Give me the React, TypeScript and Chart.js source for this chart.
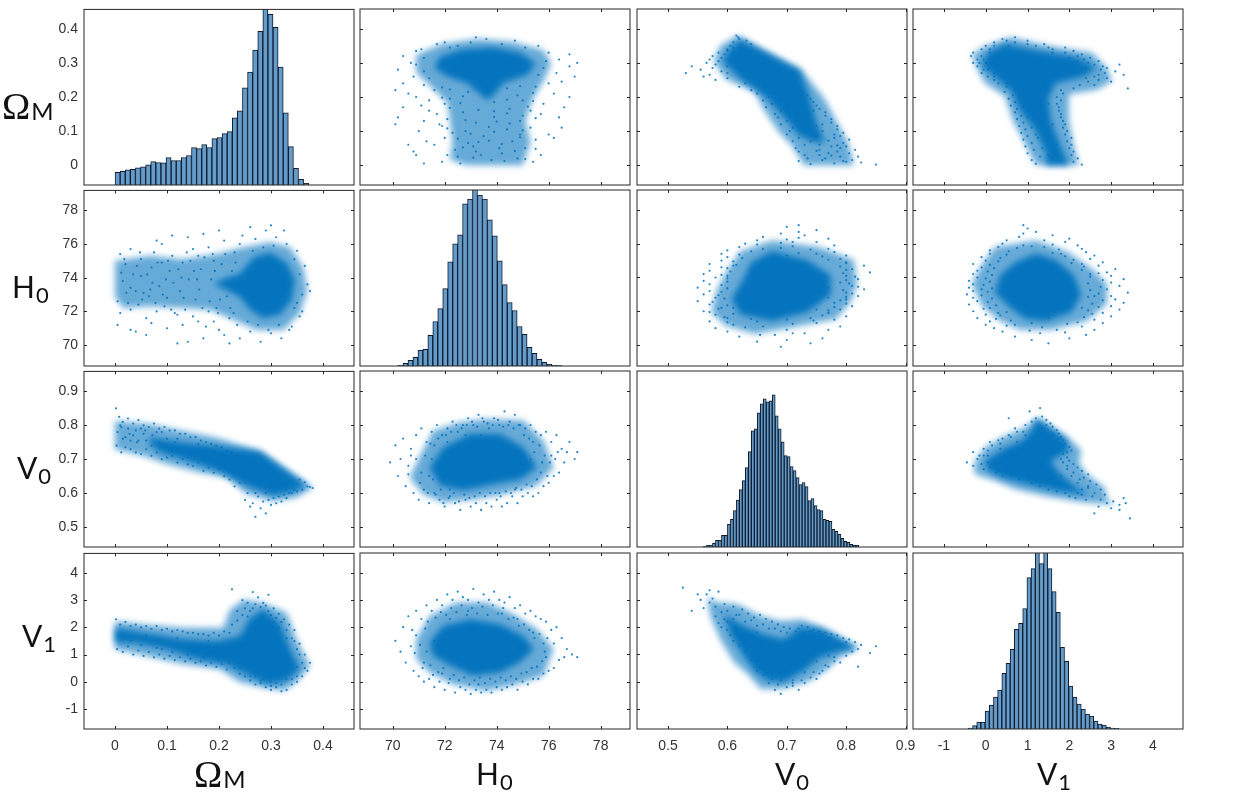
import { useEffect, useRef } from "react"
import { Chart, registerables } from "chart.js"

Chart.register(...registerables)

// Clouds are a thinned hand reading of the picture: "dots" are single points,
// "dense" and "mid" are outlines of the areas too crowded to read point by point.

const omegaBins = [38, 41, 46, 47, 52, 55, 61, 71, 68, 67, 83, 74, 74, 83, 89, 113, 110, 122, 113, 140, 143, 155, 161, 203, 224, 293, 341, 407, 464, 545, 515, 476, 356, 218, 116, 50, 17, 5]
const h0Bins = [2, 8, 17, 26, 47, 50, 92, 134, 173, 233, 314, 368, 395, 488, 503, 535, 515, 503, 440, 392, 317, 245, 191, 167, 119, 95, 56, 38, 20, 11, 5, 2, 1]
const v0Bins = [2, 5, 5, 11, 20, 20, 35, 35, 68, 83, 110, 141, 173, 200, 239, 287, 350, 356, 404, 431, 446, 437, 440, 458, 395, 356, 317, 275, 272, 242, 230, 209, 188, 194, 182, 140, 146, 125, 113, 110, 83, 80, 77, 53, 47, 38, 26, 17, 14, 8, 6, 5]
const v1Bins = [3, 10, 21, 21, 54, 72, 96, 117, 168, 198, 240, 300, 318, 363, 456, 483, 540, 498, 540, 483, 414, 351, 246, 204, 129, 96, 75, 60, 45, 39, 24, 15, 12, 6, 3, 2]
const binStarts = [0.005, 70.3, 0.5623, -0.365]
const binWidths = [0.0098, 0.191, 0.00503, 0.1]

const omegaTicks = [0, 0.1, 0.2, 0.3, 0.4]
const h0Ticks = [70, 72, 74, 76, 78]
const v0Ticks = [0.5, 0.6, 0.7, 0.8, 0.9]
const v1Ticks = [-1, 0, 1, 2, 3, 4]

const xLimits = [[-0.0596, 0.4596], [68.74, 79.13], [0.4478, 0.9024], [-1.74, 4.72]]
const yLimits = [[-0.058, 0.458], [68.76, 79.18], [0.441, 0.959], [-1.735, 4.72]]

const omH0Dense = [[.24,74.24],[.266,75.2],[.298,75.5],[.33,74.9],[.346,73.85],[.34,72.67],[.317,71.8],[.285,71.6],[.26,72.1],[.24,72.86],[.215,73.25],[.19,73.65],[.215,74]]
const omH0Mid = [[0,75],[.067,75.3],[.131,75.1],[.196,75.4],[.247,75.8],[.298,76.1],[.337,75.8],[.362,74.6],[.37,73.25],[.356,71.9],[.324,70.9],[.272,70.9],[.228,71.5],[.183,72.1],[.131,72.2],[.067,72.3],[.016,72.2],[0,72.85]]
const omH0Dots = [[.005,71.2],[.02,74.8],[.03,72.1],[.01,75.4],[.04,70.8],[.05,75.1],[.06,71.6],[.07,74.6],[.08,72],[.03,73.4],[.09,76],[.1,71],[.11,75.3],[.12,71.8],[.13,74.9],[.14,70.2],[.15,75.7],[.16,71.4],[.17,76.6],[.18,72],[.19,75],[.2,70.9],[.21,76.2],[.22,71.6],[.23,75.5],[.24,70.4],[.005,72.6],[.015,73.8],[.035,74.2],[.045,72.4],[.055,73.1],[.065,72.9],[.075,75.5],[.085,73.5],[.095,72.3],[.105,74.4],[.115,71.9],[.125,73.2],[.135,72.1],[.145,75],[.155,72.7],[.165,74.5],[.175,71.1],[.185,73.9],[.195,72.2],[.205,74.8],[.215,72.9],[.225,74.4],[.235,71.2],[.245,76.5],[.01,71.9],[.03,75.7],[.06,70.6],[.09,74.9],[.12,70.1],[.15,71.7],[.18,75.8],[.21,70.6],[.24,76],[.26,70.8],[.27,76.3],[.28,70.2],[.29,76.8],[.3,70.7],[.31,76.4],[.32,70.4],[.33,76],[.34,71.1],[.35,75.6],[.36,72],[.37,73.6],[.365,74.7],[.355,71.7],[.345,75.1],[.335,70.9],[.325,76.8],[.315,71.2],[.305,75.9],[.295,70.9],[.285,75.8],[.275,71.2],[.265,75.6],[.255,71.4],[.345,72.2],[.36,73],[.355,74.2],[.375,73.2],[.35,72.5],[.04,73.2],[.07,71.3],[.1,72.8],[.13,71.2],[.16,75.3],[.19,71.4],[.22,70.1],[.2,76.8],[.14,76.4],[.08,76.2],[.03,70.9],[.05,74.1],[.11,76.5],[.17,70.4],[.26,77],[.3,77.1],[.012,74.3],[.022,73.1],[.042,74.7],[.052,72.7],[.062,74.2],[.072,73.7],[.082,74.9],[.092,73],[.102,75],[.112,73.7],[.122,74.5],[.132,72.8],[.142,73.9],[.152,74.4],[.162,73.3],[.172,75.2],[.182,72.6],[.192,74.4],[.202,72.7],[.212,75.4],[.222,72.2],[.232,74.9],[.025,72.5],[.048,75.5],[.078,72.5],[.108,72.1],[.138,75.5],[.168,72.2],[.198,71.9],[.228,71.9],[.018,75.1],[.068,73.3],[.098,73.9],[.128,74],[.158,73.9],[.188,75.4]]

const omV0Dense = [[.067,.764],[.131,.749],[.196,.739],[.279,.722],[.369,.622],[.337,.602],[.304,.592],[.253,.622],[.196,.666],[.131,.7],[.087,.72],[.067,.745]]
const omV0Mid = [[0,.813],[.067,.803],[.131,.783],[.196,.763],[.279,.725],[.381,.617],[.349,.587],[.304,.577],[.253,.597],[.215,.646],[.163,.661],[.099,.686],[.054,.71],[0,.729]]
const omV0Dots = [[.002,.85],[.003,.74],[.008,.825],[.012,.72],[.015,.81],[.02,.735],[.025,.82],[.03,.73],[.035,.805],[.04,.72],[.045,.815],[.05,.715],[.055,.8],[.06,.73],[.065,.795],[.07,.71],[.075,.805],[.08,.72],[.085,.79],[.09,.7],[.095,.795],[.1,.705],[.105,.785],[.11,.71],[.115,.785],[.12,.69],[.125,.775],[.13,.7],[.135,.775],[.14,.685],[.145,.765],[.15,.68],[.155,.765],[.16,.69],[.165,.755],[.17,.665],[.175,.75],[.18,.675],[.185,.745],[.19,.66],[.195,.74],[.2,.67],[.205,.735],[.21,.65],[.215,.725],[.22,.64],[.225,.72],[.23,.62],[.235,.71],[.24,.63],[.245,.705],[.25,.58],[.255,.6],[.26,.56],[.265,.57],[.27,.53],[.275,.59],[.28,.555],[.285,.575],[.29,.54],[.295,.58],[.3,.565],[.305,.585],[.31,.57],[.315,.59],[.32,.575],[.325,.595],[.33,.585],[.335,.6],[.34,.6],[.345,.61],[.35,.605],[.355,.64],[.36,.61],[.365,.632],[.37,.62],[.375,.618],[.38,.615],[.01,.8],[.03,.755],[.05,.79],[.07,.74],[.09,.78],[.11,.725],[.13,.72],[.15,.715],[.17,.7],[.19,.72],[.21,.68],[.23,.66],[.25,.65],[.27,.6],[.29,.6],[.31,.62],[.33,.61],[.02,.765],[.04,.785],[.06,.755],[.08,.78],[.1,.76],[.12,.76],[.14,.705],[.16,.745],[.005,.78],[.015,.76],[.025,.79],[.035,.77],[.045,.755],[.055,.775],[.012,.795],[.028,.775],[.042,.75],[.058,.785],[.072,.77],[.085,.75],[.1,.74],[.115,.75]]

const omV1Dense = [[0,1.99],[.054,1.8],[.131,1.56],[.196,1.5],[.24,1.68],[.26,2.35],[.285,2.66],[.317,2.17],[.337,1.2],[.356,.46],[.33,.04],[.292,-.1],[.253,.27],[.215,.63],[.163,.8],[.099,1.2],[.035,1.44],[0,1.44]]
const omV1Mid = [[0,2.23],[.054,2.11],[.131,1.99],[.208,1.99],[.221,2.66],[.247,3.02],[.285,2.9],[.33,2.54],[.349,1.56],[.375,.59],[.349,-.02],[.324,-.33],[.285,-.21],[.24,-.02],[.202,.46],[.131,.65],[.061,.95],[0,1.2]]
const omV1Dots = [[.002,2.3],[.004,1.2],[.01,2.1],[.015,1.1],[.02,2.2],[.025,1.3],[.03,2.05],[.035,1],[.04,2.1],[.045,1.15],[.05,2],[.055,.95],[.06,2.05],[.065,1.1],[.07,1.95],[.075,.9],[.08,2.05],[.085,1],[.09,1.9],[.095,.85],[.1,1.95],[.105,.95],[.11,1.85],[.115,.8],[.12,1.9],[.125,.9],[.13,1.85],[.135,.75],[.14,1.8],[.145,.85],[.15,1.8],[.155,.7],[.16,1.75],[.165,.75],[.17,1.75],[.175,.6],[.18,1.7],[.185,.7],[.19,1.8],[.195,.55],[.2,1.7],[.205,.65],[.21,1.85],[.215,.45],[.22,1.8],[.225,3.4],[.23,.5],[.235,2.6],[.24,.3],[.245,3],[.25,.2],[.255,2.9],[.26,.05],[.265,3.3],[.27,-.1],[.275,3.1],[.28,-.05],[.285,2.9],[.29,-.2],[.295,3.2],[.3,-.3],[.305,2.7],[.31,-.2],[.315,2.5],[.32,-.35],[.325,2.3],[.33,-.3],[.335,2.1],[.34,-.1],[.345,1.9],[.35,0],[.355,1.4],[.36,.2],[.365,1],[.37,.4],[.375,.7],[.255,2.4],[.265,2.7],[.285,2.4],[.295,2.6],[.305,2.2],[.315,2],[.33,1.6],[.345,1.5],[.355,1],[.27,.2],[.285,.1],[.3,0],[.31,-.05],[.33,.1],[.35,.2],[.26,.55],[.245,.65],[.03,1.5],[.06,1.7],[.09,1.2],[.12,1.6],[.15,1.1],[.18,1.5],[.21,1.1],[.24,1.4],[.225,2.1],[.235,2.25],[.245,2.45],[.25,2.7],[.26,2.6],[.27,2.85],[.28,2.75],[.29,2.8],[.3,2.45],[.31,2.35],[.32,2.2],[.33,1.9],[.34,1.6],[.35,1.2],[.36,.7],[.365,.5],[.35,.55],[.34,.1],[.32,-.1],[.3,-.15],[.28,.05],[.26,.2],[.24,.5],[.22,.7],[.2,.8],[.17,.9],[.14,1],[.11,1.1],[.08,1.25],[.05,1.35]]

const h0V0Dense = [[71.42,.675],[71.94,.734],[72.97,.774],[74.13,.774],[75.03,.734],[75.55,.675],[74.9,.64],[73.87,.626],[72.71,.607],[71.81,.622]]
const h0V0Mid = [[71.03,.705],[71.55,.783],[72.58,.808],[73.61,.818],[75.03,.813],[75.8,.754],[76.19,.675],[75.55,.622],[74.26,.597],[73.23,.582],[71.94,.573],[71.16,.597],[70.65,.646]]
const h0V0Dots = [[69.9,.69],[70.1,.74],[70.2,.65],[70.3,.7],[70.4,.76],[70.5,.62],[70.6,.68],[70.7,.73],[70.8,.6],[70.9,.77],[71,.58],[71.1,.79],[71.2,.61],[71.3,.75],[71.4,.57],[71.5,.78],[71.6,.6],[71.7,.8],[71.8,.58],[71.9,.77],[72,.56],[72.1,.79],[72.2,.59],[72.3,.81],[72.4,.57],[72.5,.78],[72.6,.55],[72.7,.8],[72.8,.58],[72.9,.82],[73,.56],[73.1,.8],[73.2,.57],[73.3,.83],[73.4,.55],[73.5,.81],[73.6,.57],[73.7,.79],[73.8,.56],[73.9,.82],[74,.58],[74.1,.8],[74.2,.56],[74.3,.84],[74.4,.57],[74.5,.81],[74.6,.59],[74.7,.83],[74.8,.57],[74.9,.8],[75,.59],[75.1,.79],[75.2,.6],[75.3,.8],[75.4,.59],[75.5,.78],[75.6,.6],[75.7,.77],[75.8,.62],[75.9,.78],[76,.63],[76.1,.75],[76.2,.65],[76.3,.77],[76.4,.66],[76.5,.73],[76.6,.69],[76.7,.72],[76.8,.75],[77,.7],[77.1,.72],[70.7,.71],[71.1,.66],[71.5,.7],[71.4,.65],[72.1,.75],[72.8,.77],[73.4,.77],[74.1,.6],[74.7,.61],[75.3,.7],[75.7,.66],[76.1,.71],[75.4,.75],[71.6,.74],[72.2,.61],[70.6,.655],[70.9,.7],[71.05,.63],[71.25,.71],[71.35,.6],[71.45,.745],[71.55,.64],[71.65,.595],[71.75,.76],[71.85,.61],[71.95,.57],[72.05,.77],[72.15,.585],[72.25,.78],[72.35,.6],[72.45,.8],[72.55,.575],[72.65,.79],[72.75,.595],[72.85,.8],[72.95,.585],[73.05,.81],[73.15,.59],[73.25,.795],[73.35,.6],[73.45,.82],[73.55,.59],[73.65,.805],[73.75,.6],[73.85,.8],[73.95,.6],[74.05,.815],[74.15,.59],[74.25,.795],[74.35,.605],[74.45,.8],[74.55,.6],[74.65,.79],[74.75,.615],[74.85,.8],[74.95,.61],[75.05,.77],[75.15,.625],[75.25,.76],[75.35,.62],[75.45,.72],[75.55,.64],[75.65,.74],[75.75,.69],[75.85,.71],[75.95,.65],[76.05,.69],[76.25,.7],[76.35,.72]]

const h0V1Dense = [[71.42,1.44],[71.94,2.05],[72.97,2.29],[74.13,2.11],[75.03,1.68],[75.42,1.2],[74.9,.71],[74.13,.34],[73.1,.22],[72.2,.59],[71.55,.95]]
const h0V1Mid = [[70.9,1.56],[71.42,2.41],[72.45,2.9],[73.61,2.9],[74.52,2.54],[75.55,1.93],[76.19,1.2],[75.8,.22],[74.77,-.09],[73.61,-.33],[72.32,-.09],[71.42,.34],[70.9,.83]]
const h0V1Dots = [[70.1,1.5],[70.3,1.1],[70.4,2],[70.5,.7],[70.6,2.4],[70.7,1.3],[70.8,.4],[70.9,2.6],[71,.2],[71.1,2.3],[71.2,0],[71.3,2.8],[71.4,.1],[71.5,2.6],[71.6,-.2],[71.7,3],[71.8,0],[71.9,2.8],[72,-.3],[72.1,3.2],[72.2,.1],[72.3,3],[72.4,-.4],[72.5,3.3],[72.6,-.2],[72.7,3.1],[72.8,-.3],[72.9,3],[73,-.45],[73.1,3.4],[73.2,-.3],[73.3,2.9],[73.4,-.4],[73.5,3.2],[73.6,-.3],[73.7,3],[73.8,-.4],[73.9,3.3],[74,-.2],[74.1,3],[74.2,-.3],[74.3,2.9],[74.4,-.2],[74.5,3.1],[74.6,-.1],[74.7,2.7],[74.8,-.3],[74.9,2.8],[75,0],[75.1,2.5],[75.2,-.1],[75.3,2.6],[75.4,.1],[75.5,2.4],[75.6,.1],[75.7,2.3],[75.8,.3],[75.9,2.2],[76,.4],[76.1,1.9],[76.2,.5],[76.3,2],[76.4,.8],[76.5,1.6],[76.6,.9],[76.7,1.2],[76.9,1],[77.1,.9],[70.9,1.7],[71.3,1.1],[71.6,1.5],[72.2,2.3],[72.9,2.6],[73.3,-.1],[74.2,2.5],[74.8,2.3],[75.4,1.8],[75.8,1.4],[76.2,1.4],[75.9,.9],[71.2,.7],[71.9,.3],[70.75,1.9],[70.85,1.05],[71.05,1.35],[71.15,.5],[71.25,1.95],[71.35,2.2],[71.45,.6],[71.55,.25],[71.65,2.35],[71.75,.35],[71.85,2.55],[71.95,.5],[72.05,2.45],[72.15,-.05],[72.25,2.7],[72.35,.25],[72.45,2.55],[72.55,.05],[72.65,2.8],[72.75,.15],[72.85,2.45],[72.95,-.1],[73.05,2.7],[73.15,.05],[73.25,2.5],[73.35,.15],[73.45,2.75],[73.55,-.05],[73.65,2.45],[73.75,.1],[73.85,2.8],[73.95,0],[74.05,2.5],[74.15,.15],[74.25,2.7],[74.35,.05],[74.45,2.3],[74.55,.2],[74.65,2.35],[74.75,.1],[74.85,2.05],[74.95,.3],[75.05,2.1],[75.15,.35],[75.25,1.9],[75.35,.5],[75.45,1.6],[75.55,.55],[75.65,1.75],[75.75,.75],[75.85,1.1],[75.95,1.6]]

const v0V1Dense = [[.594,2.48],[.622,2.11],[.661,1.74],[.695,1.56],[.723,1.99],[.756,1.93],[.79,1.56],[.819,1.2],[.79,1.13],[.756,.89],[.729,.4],[.695,-.02],[.667,.04],[.645,.4],[.622,1.13],[.605,1.74]]
const v0V1Mid = [[.566,3.09],[.583,2.9],[.617,2.84],[.656,2.41],[.69,2.23],[.726,2.29],[.768,1.93],[.821,1.26],[.79,.89],[.768,.46],[.734,-.02],[.69,-.27],[.656,-.27],[.634,.28],[.611,.71],[.589,1.5],[.572,2.35]]
const v0V1Dots = [[.525,3.45],[.54,2.6],[.55,3.2],[.555,3],[.56,2.7],[.565,3.2],[.57,3.35],[.57,2.9],[.575,3.05],[.58,2.4],[.58,2.75],[.585,3.3],[.59,2.55],[.59,2],[.595,2.85],[.6,1.9],[.6,2.6],[.605,1.7],[.61,2.75],[.61,1.5],[.615,2.45],[.62,1.3],[.625,2.65],[.63,1.1],[.635,2.5],[.64,.8],[.645,2.35],[.65,.4],[.655,2.45],[.66,.25],[.665,2.3],[.67,-.05],[.675,2.2],[.68,-.3],[.685,2.1],[.69,-.45],[.695,2],[.7,-.2],[.705,1.95],[.71,-.15],[.715,1.85],[.72,-.3],[.725,2.05],[.73,-.05],[.735,2],[.74,.15],[.745,1.9],[.75,.1],[.755,1.85],[.76,.4],[.765,1.8],[.77,.55],[.775,1.75],[.78,.9],[.785,1.7],[.79,.7],[.795,1.6],[.8,.95],[.805,1.55],[.81,1.1],[.815,1.45],[.82,1.2],[.825,1.35],[.84,1.05],[.85,1.3],[.82,.55],[.755,.3],[.71,.05],[.655,.6],[.625,1.65],[.595,2.3],[.61,2.3],[.63,2.2],[.65,2.05],[.67,1.95],[.69,1.85],[.73,1.75],[.77,1.6],[.79,1.35],[.77,.95],[.75,.75],[.73,.35],[.69,.05],[.66,.5],[.635,1.2],[.585,2.15],[.6,2.2],[.615,1.95],[.62,2.45],[.63,1.55],[.64,2.25],[.645,1],[.65,1.8],[.655,.75],[.66,2.1],[.665,.3],[.675,.1],[.68,1.95],[.685,-.1],[.7,1.8],[.71,-.05],[.72,1.95],[.725,.05],[.74,1.85],[.745,.35],[.76,1.75],[.765,.6],[.775,1.6],[.78,.75],[.8,1.45]]

const clouds: Record<string, { dense: number[][]; mid: number[][]; dots: number[][] }> = {
  "0-1": { dense: omH0Dense, mid: omH0Mid, dots: omH0Dots },
  "0-2": { dense: omV0Dense, mid: omV0Mid, dots: omV0Dots },
  "0-3": { dense: omV1Dense, mid: omV1Mid, dots: omV1Dots },
  "1-2": { dense: h0V0Dense, mid: h0V0Mid, dots: h0V0Dots },
  "1-3": { dense: h0V1Dense, mid: h0V1Mid, dots: h0V1Dots },
  "2-3": { dense: v0V1Dense, mid: v0V1Mid, dots: v0V1Dots },
}
const allBins = [omegaBins, h0Bins, v0Bins, v1Bins]
const allTicks = [omegaTicks, h0Ticks, v0Ticks, v1Ticks]

const panelLefts = [83.5, 359.5, 636.5, 912.5]
const panelTops = [8.5, 190, 371, 552.5]
const panelWidth = 270
const panelHeight = 176
const pad = { left: 40, right: 20, top: 14, bottom: 30 }
const ink = "#262626"
const blue = "0, 114, 189"

const areaPlugin = {
  id: "cloudAreas",
  beforeDatasetsDraw(chart: any, _args: any, opts: any) {
    if (!opts.areas) return
    const { ctx, chartArea: a, scales } = chart
    ctx.save()
    ctx.beginPath()
    ctx.rect(a.left, a.top, a.right - a.left, a.bottom - a.top)
    ctx.clip()
    opts.areas.forEach((area: any) => {
      ctx.filter = `blur(${area.blur}px)`
      ctx.fillStyle = area.color
      ctx.beginPath()
      area.points.forEach((p: any, i: number) => {
        const px = scales.x.getPixelForValue(p.x)
        const py = scales.y.getPixelForValue(p.y)
        if (i === 0) ctx.moveTo(px, py)
        else ctx.lineTo(px, py)
      })
      ctx.closePath()
      ctx.fill()
    })
    ctx.restore()
  },
}

const framePlugin = {
  id: "frame",
  afterDraw(chart: any, _args: any, opts: any) {
    const { ctx, chartArea: a, scales } = chart
    ctx.save()
    ctx.strokeStyle = ink
    ctx.lineWidth = 1
    if (opts.inwardTicks) {
      ctx.beginPath()
      scales.x.ticks.forEach((t: any) => {
        const px = Math.round(scales.x.getPixelForValue(t.value)) + 0.5
        ctx.moveTo(px, a.top)
        ctx.lineTo(px, a.top + 3)
        ctx.moveTo(px, a.bottom)
        ctx.lineTo(px, a.bottom - 3)
      })
      scales.y.ticks.forEach((t: any) => {
        const py = Math.round(scales.y.getPixelForValue(t.value)) + 0.5
        ctx.moveTo(a.left, py)
        ctx.lineTo(a.left + 3, py)
        ctx.moveTo(a.right, py)
        ctx.lineTo(a.right - 3, py)
      })
      ctx.stroke()
    }
    ctx.strokeRect(a.left, a.top, a.right - a.left, a.bottom - a.top)
    ctx.restore()
  },
}

function toPoints(list: number[][], swap: boolean) {
  return list.map((p) => (swap ? { x: p[1], y: p[0] } : { x: p[0], y: p[1] }))
}

function Panel({ row, col }: { row: number; col: number }) {
  const canvasRef = useRef<HTMLCanvasElement>(null)

  useEffect(() => {
    if (!canvasRef.current) return
    const isHist = row === col
    const tickFont = { family: "'Liberation Sans'", size: 14 }

    const axis = (limits: number[], ticks: number[], show: boolean, padding: number) => ({
      type: "linear" as const,
      min: limits[0],
      max: limits[1],
      offset: false,
      grid: { display: false, offset: false, drawTicks: false },
      border: { display: false },
      afterBuildTicks: (s: any) => {
        s.ticks = ticks.map((value) => ({ value }))
      },
      ticks: {
        display: show,
        font: tickFont,
        color: "#333",
        padding,
        autoSkip: false,
        maxRotation: 0,
        callback: (v: any) => String(v),
      },
    })

    let datasets: any[]
    let areas: any[] | null = null
    if (isHist) {
      datasets = [
        {
          type: "bar",
          data: allBins[col].map((h, i) => ({ x: binStarts[col] + i * binWidths[col], y: h })),
          backgroundColor: "#659bc9",
          borderColor: "#0d1b2e",
          borderWidth: 1,
          barPercentage: 1,
          categoryPercentage: 1,
          yAxisID: "count",
        },
      ]
    } else {
      const swap = col > row
      const cloud = clouds[col < row ? `${col}-${row}` : `${row}-${col}`]
      areas = [
        { points: toPoints(cloud.mid, swap), color: `rgba(${blue}, 0.6)`, blur: 3 },
        { points: toPoints(cloud.dense, swap), color: `rgba(${blue}, 0.95)`, blur: 3 },
      ]
      datasets = [
        {
          type: "scatter",
          data: toPoints(cloud.dots, swap),
          pointRadius: 1.1,
          pointBorderWidth: 0,
          backgroundColor: `rgba(${blue}, 0.85)`,
        },
      ]
    }

    const scales: any = {
      x: {
        ...axis(xLimits[col], allTicks[col], row === 3, 9),
        afterFit: (s: any) => {
          s.height = pad.bottom
        },
      },
      y: {
        ...axis(yLimits[row], allTicks[row], col === 0, 6),
        afterFit: (s: any) => {
          s.width = pad.left
        },
      },
    }
    if (isHist) {
      scales.count = { type: "linear", display: false, position: "right", min: 0, max: 530 }
    }

    const chart = new Chart(canvasRef.current, {
      type: isHist ? "bar" : "scatter",
      data: { datasets },
      options: {
        responsive: false,
        animation: false,
        layout: { autoPadding: false, padding: { left: 0, bottom: 0, right: pad.right, top: pad.top } },
        scales,
        plugins: {
          legend: { display: false },
          tooltip: { enabled: false },
          frame: { inwardTicks: !isHist },
          cloudAreas: { areas },
        } as any,
      },
      plugins: [areaPlugin, framePlugin],
    } as any)

    return () => chart.destroy()
  }, [row, col])

  return (
    <canvas
      ref={canvasRef}
      width={panelWidth + pad.left + pad.right}
      height={panelHeight + pad.top + pad.bottom}
      style={{
        position: "absolute",
        left: panelLefts[col] - pad.left,
        top: panelTops[row] - pad.top,
        width: panelWidth + pad.left + pad.right,
        height: panelHeight + pad.top + pad.bottom,
      }}
    />
  )
}

function VarLabel({ main, sub, left, baseline }: { main: string; sub: string; left: number; baseline: number }) {
  const isOmega = main === "Ω"
  return (
    <div
      style={{
        position: "absolute",
        left,
        top: baseline - 40,
        height: 40,
        display: "flex",
        alignItems: "flex-end",
        whiteSpace: "nowrap",
        color: "#111",
      }}
    >
      <span style={{ display: "inline-flex", alignItems: "baseline", lineHeight: "40px", height: 40, transform: "translateY(6px)" }}>
        <span style={{ fontFamily: isOmega ? "'Liberation Serif'" : "Lato", fontSize: isOmega ? 38 : 30 }}>{main}</span>
        <span style={{ fontFamily: "Lato", fontSize: isOmega ? 24 : 22, position: "relative", top: isOmega ? 1 : 5, marginLeft: 1 }}>{sub}</span>
      </span>
    </div>
  )
}

export default function App() {
  const indexes = [0, 1, 2, 3]
  return (
    <div style={{ position: "absolute", left: 0, top: 0, width: 1237, height: 793, background: "#fff", overflow: "hidden" }}>
      {indexes.map((row) => indexes.map((col) => <Panel key={`${row}-${col}`} row={row} col={col} />))}
      <VarLabel main="Ω" sub="M" left={2} baseline={120} />
      <VarLabel main="H" sub="0" left={12} baseline={300} />
      <VarLabel main="V" sub="0" left={17} baseline={481} />
      <VarLabel main="V" sub="1" left={22} baseline={649} />
      <VarLabel main="Ω" sub="M" left={194} baseline={788} />
      <VarLabel main="H" sub="0" left={476} baseline={787} />
      <VarLabel main="V" sub="0" left={775} baseline={787} />
      <VarLabel main="V" sub="1" left={1037} baseline={787} />
    </div>
  )
}
